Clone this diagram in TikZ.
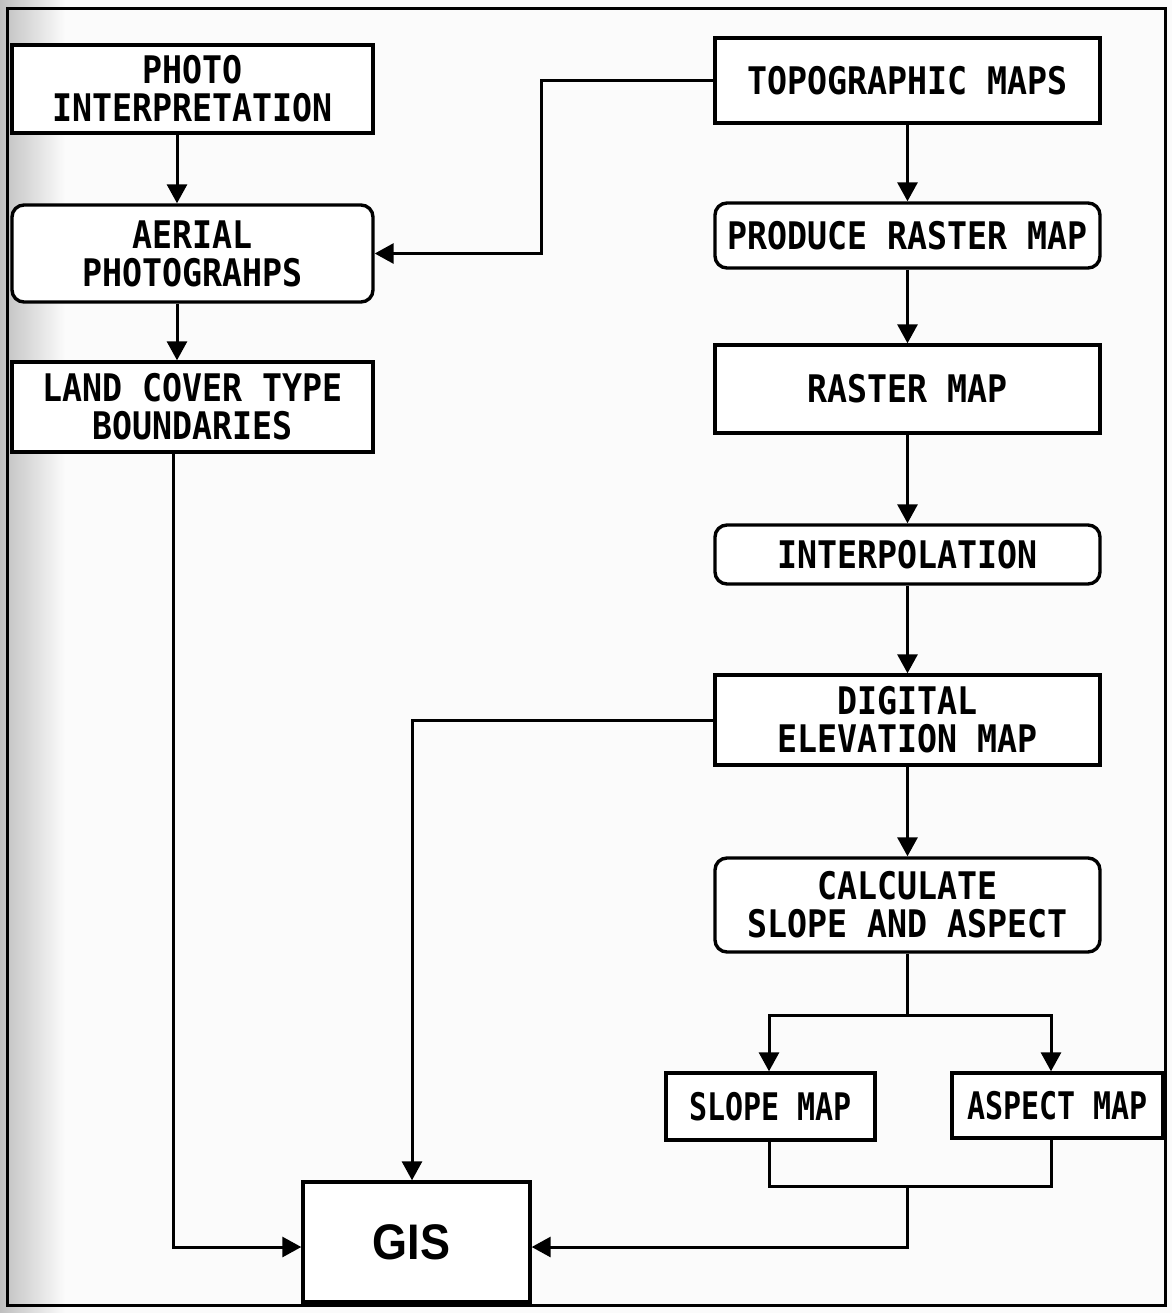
\documentclass[tikz,border=0pt]{standalone}
\usepackage{fontspec}
\usetikzlibrary{arrows.meta,calc}
\newfontfamily\boxfont[FakeStretch=0.875]{DejaVu Sans Mono}
\newfontfamily\narrowfont[FakeStretch=0.79]{DejaVu Sans Mono}
\newfontfamily\gisfont[FakeStretch=0.9]{Liberation Sans}
\begin{document}
\begin{tikzpicture}[x=0.5pt,y=-0.5pt,
  box/.style={draw, line width=1.7pt, fill=white, inner sep=0pt, align=center,
    font=\boxfont\bfseries\fontsize{19pt}{19pt}\selectfont},
  rbox/.style={box, rounded corners=6pt},
  conn/.style={line width=1.5pt},
  arr/.style={conn, -{Triangle[width=10pt,length=9.5pt]}}]
% page and scan margins
\useasboundingbox (0,0) rectangle (1172,1313);
\fill[black!1.5] (0,0) rectangle (1172,1313);
\shade[left color=black!25, right color=black!1.5, shading angle=90] (0,0) rectangle (65,1313);
\draw[line width=1.5pt] (7,8) rectangle (1165,1305);

% left column
\node[box, minimum width=180.5pt, minimum height=44pt] (photo) at (192.5,89) {PHOTO\\INTERPRETATION};
\node[rbox, minimum width=180.5pt, minimum height=48.5pt] (aerial) at (192.5,253.5) {AERIAL\\PHOTOGRAHPS};
\node[box, minimum width=180.5pt, minimum height=45pt] (land) at (192.5,407) {LAND COVER TYPE\\BOUNDARIES};

% right column
\node[box, minimum width=192.5pt, minimum height=42.5pt] (topo) at (907.5,80.5) {TOPOGRAPHIC MAPS};
\node[rbox, minimum width=192.5pt, minimum height=32.5pt] (produce) at (907.5,235.5) {PRODUCE RASTER MAP};
\node[box, minimum width=192.5pt, minimum height=44pt] (raster) at (907.5,389) {RASTER MAP};
\node[rbox, minimum width=192.5pt, minimum height=29.5pt] (interp) at (907.5,554.5) {INTERPOLATION};
\node[box, minimum width=192.5pt, minimum height=45pt] (dem) at (907.5,720) {DIGITAL\\ELEVATION MAP};
\node[rbox, minimum width=192.5pt, minimum height=47pt] (calc) at (907.5,905) {CALCULATE\\SLOPE AND ASPECT};
\node[box, minimum width=104.5pt, minimum height=33.5pt,
  font=\narrowfont\bfseries\fontsize{19pt}{19pt}\selectfont] (slope) at (770.5,1106.5) {SLOPE MAP};
\node[box, minimum width=105.5pt, minimum height=32.5pt,
  font=\narrowfont\bfseries\fontsize{19pt}{19pt}\selectfont] (aspect) at (1057.5,1105.5) {ASPECT MAP};

% output
\node[box, minimum width=113.5pt, minimum height=60pt,
  font=\gisfont\bfseries\fontsize{25pt}{25pt}\selectfont] (gis) at (416.5,1242) {\hspace*{-5pt}GIS};

% routing columns and rows
\coordinate (lcol) at (177,0);
\coordinate (lj) at (173,0);
\coordinate (tj) at (541,0);
\coordinate (dj) at (412,0);
\coordinate (gy) at (0,1247);
\coordinate (split) at (907.5,1015);
\coordinate (sx) at (769,0);
\coordinate (ax) at (1051,0);
\coordinate (mj) at (907.5,1186);

% left column flow
\draw[arr] (photo.south -| lcol) -- (aerial.north -| lcol);
\draw[arr] (aerial.south -| lcol) -- (land.north -| lcol);
\draw[arr] (topo.west) -- (topo.west -| tj) |- (aerial.east);

% right column flow
\draw[arr] (topo.south) -- (produce.north);
\draw[arr] (produce.south) -- (raster.north);
\draw[arr] (raster.south) -- (interp.north);
\draw[arr] (interp.south) -- (dem.north);
\draw[arr] (dem.south) -- (calc.north);

% split into slope and aspect
\draw[conn] (calc.south) -- (split);
\draw[arr] (split) -| (slope.north -| sx);
\draw[arr] (split) -| (aspect.north -| ax);

% everything into GIS
\draw[arr] (dem.west) -| (dj |- gis.north);
\draw[arr] (land.south -| lj) |- (gis.west |- gy);
\draw[conn] (slope.south -| sx) -- (sx |- mj) -- (ax |- mj) -- (aspect.south -| ax);
\draw[arr] (mj) |- (gis.east |- gy);
\end{tikzpicture}
\end{document}
